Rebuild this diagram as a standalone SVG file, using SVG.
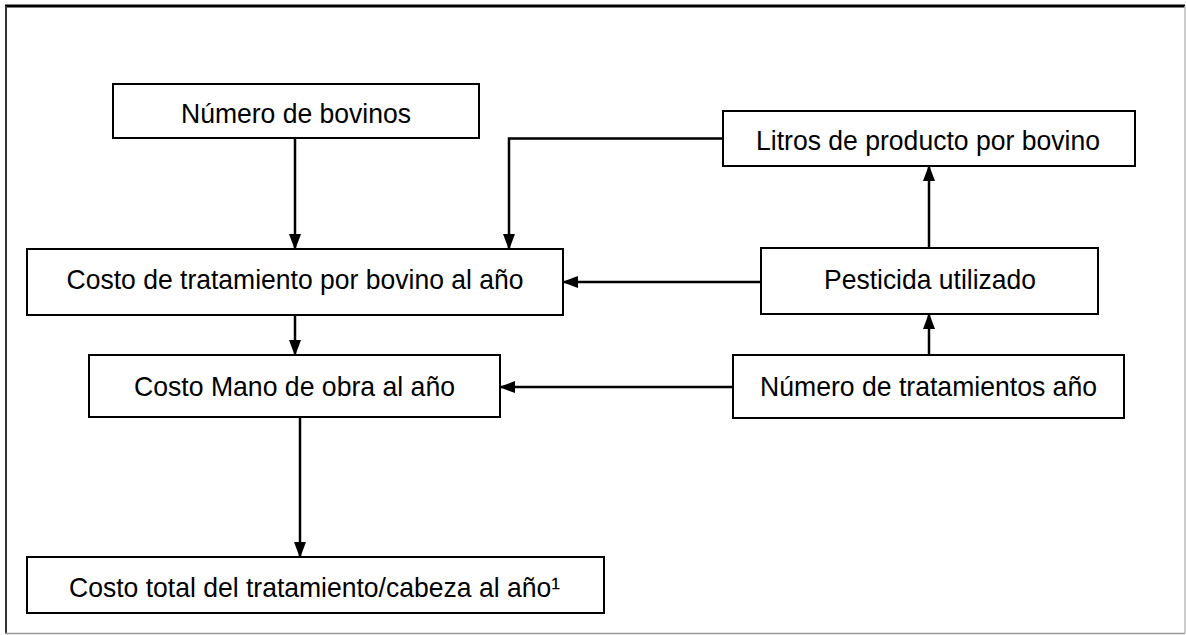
<svg xmlns="http://www.w3.org/2000/svg" width="1186" height="635" viewBox="0 0 1186 635">
<style>
.box{fill:#fff;stroke:#000;stroke-width:2}
.lbl{font-family:"Liberation Sans",Arial,sans-serif;font-size:27.5px;fill:#000;text-anchor:middle}
.edge{fill:none;stroke:#000;stroke-width:2.5}
</style>
<defs>
<marker id="ah" markerWidth="16" markerHeight="14" refX="15" refY="7" orient="auto" markerUnits="userSpaceOnUse">
<path d="M0,1 L16,7 L0,13 Z" fill="#000"/>
</marker>
</defs>
<rect width="1186" height="635" fill="#fff"/>
<g id="frame">
<line x1="5" y1="6" x2="1185" y2="6" stroke="#000" stroke-width="3"/>
<line x1="6" y1="6" x2="6" y2="633" stroke="#333" stroke-width="2"/>
<line x1="1185" y1="6" x2="1185" y2="633" stroke="#bbb" stroke-width="1.5"/>
<line x1="5" y1="633.5" x2="1185" y2="633.5" stroke="#999" stroke-width="1.5"/>
</g>
<g id="connectors">
<path class="edge" d="M295,138 V249" marker-end="url(#ah)"/>
<path class="edge" d="M723,138.5 H509 V249" marker-end="url(#ah)"/>
<path class="edge" d="M761,282 H563" marker-end="url(#ah)"/>
<path class="edge" d="M929,248 V166" marker-end="url(#ah)"/>
<path class="edge" d="M295,315 V355" marker-end="url(#ah)"/>
<path class="edge" d="M929,355 V314" marker-end="url(#ah)"/>
<path class="edge" d="M733,387 H500" marker-end="url(#ah)"/>
<path class="edge" d="M300,417 V557" marker-end="url(#ah)"/>
</g>
<g id="n-bovinos">
<rect class="box" x="113" y="84" width="366" height="54"/>
<text class="lbl" x="296" y="123" textLength="230" lengthAdjust="spacingAndGlyphs">Número de bovinos</text>
</g>
<g id="n-costo-tratamiento">
<rect class="box" x="27" y="249" width="536" height="66"/>
<text class="lbl" x="295" y="289" textLength="457" lengthAdjust="spacingAndGlyphs">Costo de tratamiento por bovino al año</text>
</g>
<g id="n-litros">
<rect class="box" x="723" y="111" width="412" height="55"/>
<text class="lbl" x="928" y="150" textLength="344" lengthAdjust="spacingAndGlyphs">Litros de producto por bovino</text>
</g>
<g id="n-pesticida">
<rect class="box" x="761" y="248" width="337" height="66"/>
<text class="lbl" x="930" y="289" textLength="212" lengthAdjust="spacingAndGlyphs">Pesticida utilizado</text>
</g>
<g id="n-mano-obra">
<rect class="box" x="89" y="355" width="411" height="62"/>
<text class="lbl" x="294.5" y="396" textLength="321" lengthAdjust="spacingAndGlyphs">Costo Mano de obra al año</text>
</g>
<g id="n-tratamientos">
<rect class="box" x="733" y="355" width="391" height="63"/>
<text class="lbl" x="928.5" y="396" textLength="337" lengthAdjust="spacingAndGlyphs">Número de tratamientos año</text>
</g>
<g id="n-costo-total">
<rect class="box" x="27" y="557" width="577" height="56"/>
<text class="lbl" x="69" y="597" style="text-anchor:start" textLength="491" lengthAdjust="spacingAndGlyphs">Costo total del tratamiento/cabeza al año¹</text>
</g>
</svg>
